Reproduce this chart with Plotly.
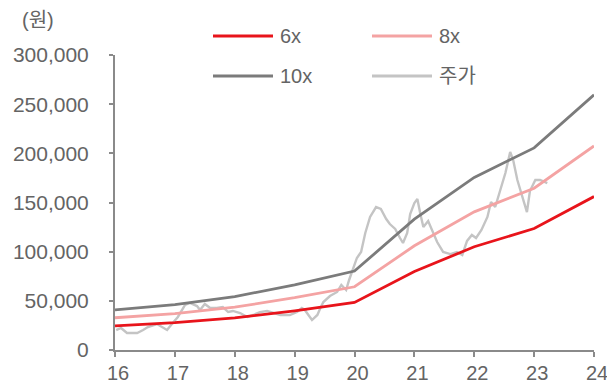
import plotly.graph_objects as go

# Valuation bands (price at 6x / 8x / 10x multiples), year-start points
years = [16, 17, 18, 19, 20, 21, 22, 23, 24]
band_6x = [24.6, 27.8, 32.6, 39.8, 48.3, 79.8, 105.0, 123.5, 156.0]
band_8x = [32.8, 37.0, 43.5, 53.2, 64.3, 106.0, 140.5, 164.5, 207.5]
band_10x = [40.8, 46.2, 54.3, 66.3, 80.3, 133.0, 175.5, 205.5, 259.5]

# Share price (주가), thousand won
price_t = [16.02, 16.10, 16.20, 16.37, 16.47, 16.55, 16.70, 16.79, 16.87, 16.95,
           17.05, 17.17, 17.25, 17.37, 17.42, 17.50, 17.59, 17.70, 17.80, 17.89,
           17.97, 18.09, 18.21, 18.31, 18.42, 18.54, 18.64, 18.76, 18.92, 19.04,
           19.12, 19.17, 19.29, 19.38, 19.43, 19.48, 19.59, 19.71, 19.78, 19.86,
           19.91, 19.98, 20.04, 20.11, 20.18, 20.26, 20.36, 20.44, 20.53, 20.59,
           20.68, 20.76, 20.81, 20.88, 20.93, 21.00, 21.05, 21.10, 21.15, 21.23,
           21.30, 21.38, 21.48, 21.60, 21.71, 21.80, 21.88, 21.96, 22.03, 22.12,
           22.22, 22.28, 22.35, 22.43, 22.52, 22.60, 22.65, 22.72, 22.80, 22.88,
           22.93, 23.02, 23.10, 23.22]
price_v = [20.3, 22.4, 17.3, 17.3, 20.3, 23.4, 26.4, 23.4, 20.3, 26.4,
           33.6, 45.8, 47.8, 44.7, 40.7, 46.8, 42.7, 42.7, 43.7, 38.6,
           39.7, 37.6, 33.6, 35.6, 38.6, 39.7, 37.6, 35.6, 35.6, 38.6,
           42.7, 40.7, 30.5, 35.6, 42.7, 48.8, 54.9, 59.0, 66.1, 61.0,
           71.2, 83.4, 93.6, 99.7, 119.0, 135.3, 145.4, 143.4, 133.2, 128.1,
           123.1, 113.9, 108.8, 119.0, 138.3, 149.5, 153.6, 138.3, 125.1, 131.2,
           122.0, 109.8, 99.7, 97.6, 99.7, 96.6, 110.9, 117.0, 113.9, 122.0,
           135.3, 150.5, 145.4, 160.7, 180.0, 201.4, 193.2, 172.9, 155.6, 140.3,
           161.7, 172.9, 172.9, 169.8]

y_ticks = [0, 50000, 100000, 150000, 200000, 250000, 300000]
y_labels = ["0", "50,000", "100,000", "150,000", "200,000", "250,000", "300,000"]
x_labels = ["16", "17", "18", "19", "20", "21", "22", "23", "24"]

series = [
    ("6x", years, band_6x, "#e8141b", 2.8),
    ("8x", years, band_8x, "#f4a3a3", 2.8),
    ("10x", years, band_10x, "#7b7b7b", 2.8),
    ("주가", price_t, price_v, "#c4c4c4", 2.4),
]

FONT = "Liberation Sans, Arial, Noto Sans CJK KR, sans-serif"
TXT = "#646464"

W, H = 607, 389
L, R, T, B = 115, 13, 55, 39
pw, ph = W - L - R, H - T - B


def px(x):
    return (x - L) / pw


def py(y):
    return (H - B - y) / ph


fig = go.Figure()
# stock price drawn first so band lines sit on top
for name, xs, vs, color, width in [series[3], series[2], series[1], series[0]]:
    fig.add_trace(go.Scatter(
        x=xs, y=[v * 1000 for v in vs], mode="lines", name=name,
        line=dict(color=color, width=width), showlegend=False,
    ))

# Legend: two rows of line swatches with labels
legend_pos = [(213, 36), (372, 36), (213, 76), (372, 76)]
for (name, _, _, color, width), (lx, ly) in zip(series, legend_pos):
    fig.add_shape(type="line", xref="paper", yref="paper",
                  x0=px(lx), x1=px(lx + 60), y0=py(ly), y1=py(ly),
                  line=dict(color=color, width=3))
    fig.add_annotation(xref="paper", yref="paper", x=px(lx + 65), y=py(ly),
                       text=name, showarrow=False, xanchor="left", yanchor="middle",
                       font=dict(family=FONT, size=20, color=TXT))

fig.add_annotation(xref="paper", yref="paper", x=px(38), y=py(20),
                   text="(원)", showarrow=False, xanchor="center", yanchor="middle",
                   font=dict(family=FONT, size=20, color=TXT))

fig.update_layout(
    width=W, height=H,
    margin=dict(l=L, r=R, t=T, b=B, autoexpand=False),
    paper_bgcolor="white", plot_bgcolor="white",
    font=dict(family=FONT, size=21, color=TXT),
    showlegend=False,
)
fig.update_xaxes(
    range=[16, 24], tickvals=years, ticktext=x_labels, automargin=False,
    showgrid=False, zeroline=False, showline=True, linecolor="#8a8a8a", linewidth=2,
    ticks="outside", ticklen=5, tickwidth=2, tickcolor="#8a8a8a",
    tickfont=dict(size=20),
    ticklabelstandoff=-1, ticklabelshift=3, ticklabeloverflow="allow",
)
fig.update_yaxes(
    range=[0, 300000], tickvals=y_ticks, ticktext=y_labels, automargin=False,
    showgrid=False, zeroline=False, showline=True, linecolor="#8a8a8a", linewidth=2,
    ticks="outside", ticklen=4, tickwidth=2, tickcolor="#8a8a8a",
    ticklabelstandoff=16,
)

fig.write_html("out.html")
